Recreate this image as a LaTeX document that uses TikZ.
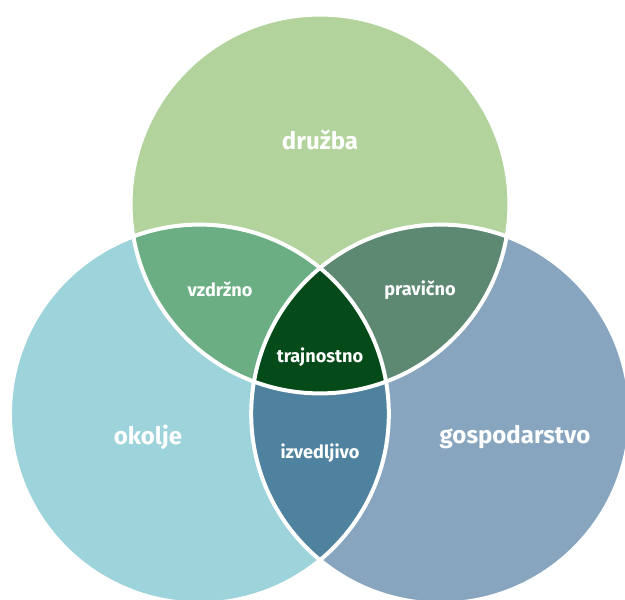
\documentclass[tikz,border=0pt]{standalone}
\usepackage{fontspec}
\setmainfont{Fira Sans}
\definecolor{druzbaCol}{HTML}{B2D39B}
\definecolor{okoljeCol}{HTML}{9DD3DB}
\definecolor{gospCol}{HTML}{87A5BF}
\definecolor{vzdrznoCol}{HTML}{6BAE83}
\definecolor{pravicnoCol}{HTML}{5D8872}
\definecolor{izvedCol}{HTML}{4E829E}
\definecolor{trajnoCol}{HTML}{044B19}

\newcommand{\circR}{5.682cm}

\tikzset{
  bigLabel/.style={text=white, font=\bfseries\fontsize{20.5}{24}\selectfont},
  smallLabel/.style={text=white, font=\bfseries\fontsize{15.5}{18}\selectfont},
  rim/.style={draw=white, line width=3.4pt}
}

\begin{document}
\begin{tikzpicture}[x=0.03cm, y=-0.03cm]
  \useasboundingbox (0,0) rectangle (625,600);
  \clip (0,0) rectangle (625,600);

  \coordinate (T) at (320,204);
  \coordinate (L) at (199.4,414);
  \coordinate (R) at (440.6,414);

  % the three sets
  \fill[druzbaCol] (T) circle[radius=\circR];
  \fill[okoljeCol] (L) circle[radius=\circR];
  \fill[gospCol]   (R) circle[radius=\circR];

  % pairwise overlaps
  \begin{scope}
    \clip (T) circle[radius=\circR];
    \fill[vzdrznoCol] (L) circle[radius=\circR];
    \fill[pravicnoCol] (R) circle[radius=\circR];
  \end{scope}
  \begin{scope}
    \clip (L) circle[radius=\circR];
    \fill[izvedCol] (R) circle[radius=\circR];
  \end{scope}
  % all three
  \begin{scope}
    \clip (T) circle[radius=\circR];
    \clip (L) circle[radius=\circR];
    \fill[trajnoCol] (R) circle[radius=\circR];
  \end{scope}

  \draw[rim] (T) circle[radius=\circR];
  \draw[rim] (L) circle[radius=\circR];
  \draw[rim] (R) circle[radius=\circR];

  \node[bigLabel] (druzba) at (320,140) {družba};
  \node[bigLabel] (okolje) at (148,437) {okolje};
  \node[bigLabel] (gosp) at (515,437) {gospodarstvo};
  \node[smallLabel] (vzdrzno) at (220,289) {vzdržno};
  \node[smallLabel] (pravicno) at (420,290) {pravično};
  \node[smallLabel] (trajno) at (320,357) {trajnostno};
  \node[smallLabel] (izved) at (320,453) {izvedljivo};

\end{tikzpicture}
\end{document}
